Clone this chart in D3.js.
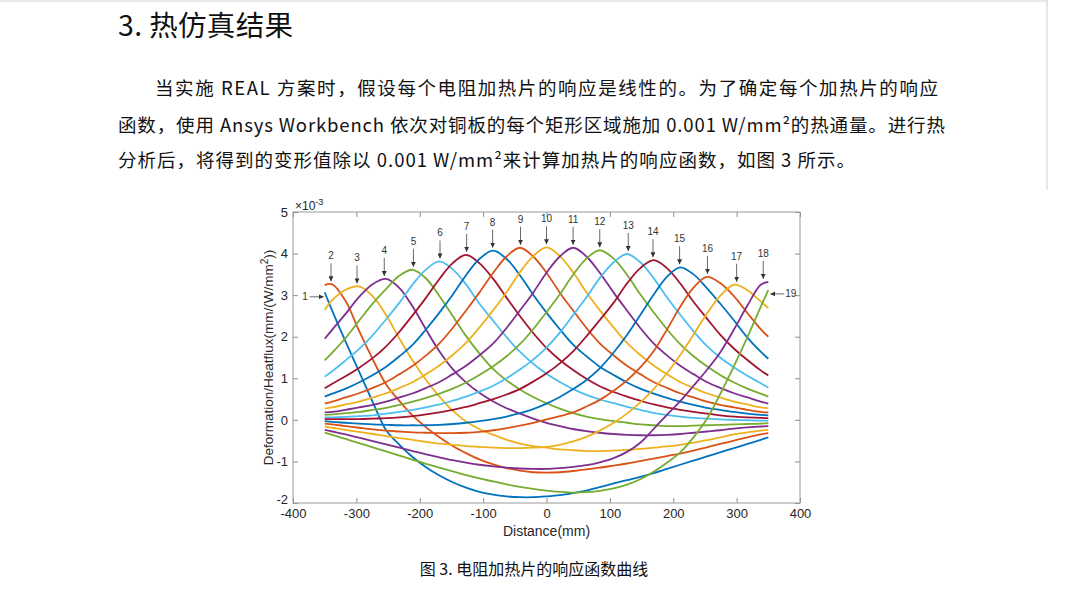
<!DOCTYPE html>
<html lang="zh">
<head>
<meta charset="UTF-8">
<title>电阻加热片的响应函数曲线</title>
<style>
  body { margin: 0; background: #fff; }
  svg { display: block; }
  .cjk { font-family: "Noto Sans CJK SC", sans-serif; fill: #111; }
  .axis text { font-family: "Liberation Sans", Arial, sans-serif; font-size: 13px; fill: #262626; }
  .axis line { stroke: #8f8f8f; }
  .axis path { stroke: none; }
  .frame { fill: none; stroke: #9a9a9a; stroke-width: 1; }
  .ann { font-family: "Liberation Sans", Arial, sans-serif; font-size: 10px; fill: #333; }
  .ann-line { stroke: #444; stroke-width: 0.8; }
  .resp { fill: none; stroke-width: 1.8; }
</style>
</head>
<body>
<script src="https://cdn.jsdelivr.net/npm/d3@7/dist/d3.min.js"></script>
<script>
// distance along the plate (mm)
const distance = [-350, -338, -317, -296, -274, -253, -232, -211, -190, -169, -148, -127, -106, -84, -63, -42, -21, 0,
  21, 42, 63, 84, 106, 127, 148, 169, 190, 211, 232, 253, 274, 296, 317, 338, 350];

// response of heater k, in 1e-3 mm/(W/mm^2)
const h1 = [3.07, 2.62, 1.88, 1.17, 0.42, -0.25, -0.60, -0.90, -1.14, -1.34, -1.50, -1.63, -1.73, -1.80, -1.84, -1.86, -1.86, -1.84,
  -1.81, -1.76, -1.70, -1.62, -1.53, -1.45, -1.37, -1.28, -1.18, -1.08, -0.98, -0.88, -0.78, -0.68, -0.58, -0.48, -0.42];
const h2 = [3.24, 3.26, 2.86, 2.15, 1.45, 0.85, 0.45, 0.10, -0.18, -0.42, -0.63, -0.80, -0.95, -1.07, -1.16, -1.22, -1.26, -1.27,
  -1.26, -1.23, -1.19, -1.15, -1.10, -1.05, -0.99, -0.93, -0.87, -0.81, -0.74, -0.66, -0.58, -0.50, -0.42, -0.35, -0.32];
const h3 = [2.65, 2.88, 3.13, 3.21, 2.97, 2.52, 1.95, 1.42, 0.96, 0.56, 0.22, -0.04, -0.22, -0.36, -0.48, -0.57, -0.63, -0.67,
  -0.71, -0.73, -0.75, -0.75, -0.74, -0.72, -0.70, -0.67, -0.64, -0.60, -0.55, -0.49, -0.42, -0.35, -0.30, -0.26, -0.24];
const h4 = [1.95, 2.17, 2.55, 2.95, 3.27, 3.39, 3.17, 2.72, 2.17, 1.65, 1.22, 0.90, 0.65, 0.44, 0.28, 0.15, 0.03, -0.07,
  -0.15, -0.22, -0.27, -0.31, -0.34, -0.36, -0.37, -0.37, -0.36, -0.34, -0.31, -0.28, -0.25, -0.21, -0.18, -0.16, -0.15];
const h5 = [1.43, 1.62, 1.97, 2.38, 2.80, 3.15, 3.47, 3.61, 3.40, 2.98, 2.50, 2.02, 1.60, 1.22, 0.95, 0.73, 0.55, 0.40,
  0.27, 0.16, 0.08, 0.02, -0.03, -0.07, -0.11, -0.13, -0.15, -0.15, -0.14, -0.13, -0.12, -0.11, -0.10, -0.09, -0.08];
const h6 = [1.04, 1.17, 1.43, 1.70, 2.04, 2.42, 2.82, 3.26, 3.62, 3.81, 3.62, 3.26, 2.80, 2.38, 1.99, 1.64, 1.35, 1.11,
  0.91, 0.74, 0.60, 0.49, 0.40, 0.31, 0.24, 0.17, 0.12, 0.08, 0.05, 0.03, 0.01, 0.00, -0.01, -0.02, -0.02];
const h7 = [0.76, 0.87, 1.05, 1.25, 1.49, 1.77, 2.12, 2.52, 2.94, 3.39, 3.77, 3.97, 3.77, 3.39, 2.94, 2.50, 2.09, 1.73,
  1.44, 1.20, 0.99, 0.81, 0.67, 0.56, 0.46, 0.37, 0.30, 0.24, 0.19, 0.15, 0.11, 0.08, 0.06, 0.05, 0.04];
const h8 = [0.56, 0.63, 0.75, 0.90, 1.08, 1.28, 1.53, 1.81, 2.18, 2.58, 3.01, 3.48, 3.87, 4.07, 3.87, 3.48, 3.01, 2.58,
  2.18, 1.81, 1.53, 1.28, 1.08, 0.90, 0.75, 0.63, 0.53, 0.44, 0.36, 0.29, 0.24, 0.19, 0.15, 0.12, 0.11];
const h9 = [0.39, 0.44, 0.54, 0.64, 0.77, 0.91, 1.10, 1.30, 1.55, 1.84, 2.21, 2.63, 3.06, 3.54, 3.93, 4.14, 3.93, 3.54,
  3.06, 2.63, 2.21, 1.84, 1.55, 1.30, 1.10, 0.91, 0.77, 0.64, 0.54, 0.44, 0.36, 0.30, 0.24, 0.19, 0.18];
const h10 = [0.27, 0.30, 0.37, 0.44, 0.54, 0.64, 0.77, 0.91, 1.10, 1.31, 1.56, 1.85, 2.22, 2.64, 3.07, 3.55, 3.94, 4.15,
  3.94, 3.55, 3.07, 2.64, 2.22, 1.85, 1.56, 1.31, 1.10, 0.91, 0.77, 0.64, 0.54, 0.44, 0.37, 0.30, 0.28];
const h11 = [0.18, 0.19, 0.24, 0.30, 0.36, 0.44, 0.54, 0.64, 0.77, 0.91, 1.10, 1.30, 1.55, 1.84, 2.21, 2.63, 3.06, 3.54,
  3.93, 4.14, 3.93, 3.54, 3.06, 2.63, 2.21, 1.84, 1.55, 1.30, 1.10, 0.91, 0.77, 0.64, 0.54, 0.44, 0.39];
const h12 = [0.12, 0.13, 0.16, 0.19, 0.24, 0.29, 0.36, 0.44, 0.53, 0.63, 0.75, 0.90, 1.08, 1.29, 1.53, 1.82, 2.18, 2.59,
  3.02, 3.49, 3.88, 4.08, 3.88, 3.49, 3.02, 2.59, 2.18, 1.82, 1.53, 1.29, 1.08, 0.90, 0.75, 0.63, 0.56];
const h13 = [0.06, 0.06, 0.07, 0.09, 0.11, 0.15, 0.19, 0.24, 0.30, 0.37, 0.46, 0.56, 0.68, 0.82, 1.00, 1.21, 1.45, 1.74,
  2.10, 2.52, 2.95, 3.41, 3.79, 3.99, 3.79, 3.41, 2.95, 2.53, 2.13, 1.78, 1.50, 1.26, 1.06, 0.88, 0.77];
const h14 = [0.02, 0.02, 0.02, 0.02, 0.03, 0.04, 0.06, 0.09, 0.13, 0.18, 0.24, 0.31, 0.40, 0.50, 0.61, 0.74, 0.92, 1.12,
  1.36, 1.65, 2.01, 2.40, 2.82, 3.28, 3.65, 3.84, 3.65, 3.28, 2.84, 2.44, 2.05, 1.71, 1.44, 1.19, 1.07];
const h15 = [-0.03, -0.05, -0.07, -0.09, -0.11, -0.12, -0.13, -0.13, -0.13, -0.12, -0.10, -0.07, -0.03, 0.02, 0.08, 0.16, 0.26, 0.39,
  0.55, 0.74, 0.96, 1.24, 1.62, 2.04, 2.52, 3.01, 3.44, 3.67, 3.50, 3.17, 2.80, 2.39, 1.98, 1.64, 1.47];
const h16 = [-0.09, -0.11, -0.15, -0.19, -0.23, -0.26, -0.28, -0.30, -0.31, -0.32, -0.32, -0.31, -0.29, -0.25, -0.20, -0.14, -0.07, 0.01,
  0.09, 0.18, 0.32, 0.48, 0.70, 0.95, 1.26, 1.65, 2.17, 2.72, 3.18, 3.44, 3.29, 2.97, 2.57, 2.18, 2.00];
const h17 = [-0.16, -0.19, -0.24, -0.29, -0.34, -0.39, -0.44, -0.48, -0.53, -0.57, -0.60, -0.63, -0.65, -0.67, -0.68, -0.68, -0.67, -0.65,
  -0.60, -0.52, -0.41, -0.26, -0.07, 0.15, 0.42, 0.74, 1.12, 1.56, 2.05, 2.55, 2.98, 3.25, 3.12, 2.85, 2.69];
const h18 = [-0.24, -0.28, -0.35, -0.43, -0.51, -0.59, -0.67, -0.75, -0.83, -0.90, -0.97, -1.03, -1.08, -1.12, -1.15, -1.17, -1.18, -1.18,
  -1.16, -1.13, -1.09, -1.02, -0.92, -0.77, -0.55, -0.22, 0.12, 0.45, 0.82, 1.20, 1.62, 2.18, 2.75, 3.25, 3.32];
const h19 = [-0.31, -0.36, -0.46, -0.56, -0.66, -0.76, -0.86, -0.96, -1.06, -1.15, -1.24, -1.33, -1.41, -1.48, -1.55, -1.61, -1.66, -1.70,
  -1.73, -1.75, -1.74, -1.71, -1.65, -1.56, -1.43, -1.25, -1.03, -0.78, -0.42, 0.02, 0.62, 1.30, 1.99, 2.72, 3.12];

const responses = [h1, h2, h3, h4, h5, h6, h7, h8, h9, h10, h11, h12, h13, h14, h15, h16, h17, h18, h19];

// matlab default line colours, cycled
const lineColors = ["#0072BD", "#D95319", "#EDB120", "#7E2F8E", "#77AC30", "#4DBEEE", "#A2142F"];

const xTicks = [-400, -300, -200, -100, 0, 100, 200, 300, 400];
const yTicks = [-2, -1, 0, 1, 2, 3, 4, 5];

// numbered arrows above the peaks (heaters 2..18)
const peakNames = ["2", "3", "4", "5", "6", "7", "8", "9", "10", "11", "12", "13", "14", "15", "16", "17", "18"];
const peakAt = [-340, -299, -256, -210, -168, -126, -85, -41, 0, 42, 84, 129, 168, 210, 254, 300, 342];
// side arrows for the two edge heaters
const sideNames = ["1", "19"];
const sideAt = [-350, 350];
const sideValue = [2.96, 3.03];

const title = "3. 热仿真结果";
const paragraph = [
  "当实施 REAL 方案时，假设每个电阻加热片的响应是线性的。为了确定每个加热片的响应",
  "函数，使用 Ansys Workbench 依次对铜板的每个矩形区域施加 0.001 W/mm²的热通量。进行热",
  "分析后，将得到的变形值除以 0.001 W/mm²来计算加热片的响应函数，如图 3 所示。"
];
const caption = "图 3. 电阻加热片的响应函数曲线";

const width = 1080, height = 599;
const plot = { left: 293, right: 800, top: 212, bottom: 503 };

const svg = d3.select("body").append("svg")
  .attr("width", width)
  .attr("height", height);

svg.append("rect").attr("width", width).attr("height", height).attr("fill", "#fff");

// page decoration
svg.append("line").attr("x1", 0).attr("x2", 1047).attr("y1", 1).attr("y2", 1)
  .attr("stroke", "#e8e8e8").attr("stroke-width", 2);
svg.append("line").attr("x1", 1047).attr("x2", 1047).attr("y1", 0).attr("y2", 190)
  .attr("stroke", "#cfcfcf").attr("stroke-width", 1);

// text of the page
svg.append("text").attr("class", "cjk")
  .attr("x", 118).attr("y", 36)
  .style("font-size", "28.5px")
  .attr("textLength", 175)
  .text(title);

const paraX = [155, 118, 118];
const paraW = [783, 827, 737];
const paraY = [95, 132, 167];
svg.selectAll("text.para").data(paragraph).enter().append("text")
  .attr("class", "cjk para")
  .attr("x", (d, i) => paraX[i])
  .attr("y", (d, i) => paraY[i])
  .attr("textLength", (d, i) => paraW[i])
  .attr("lengthAdjust", "spacing")
  .style("font-size", "18.5px")
  .text(d => d);

svg.append("text").attr("class", "cjk")
  .attr("x", 534).attr("y", 575)
  .attr("text-anchor", "middle")
  .style("font-size", "16px")
  .text(caption);

// scales
const x = d3.scaleLinear().domain([-400, 400]).range([plot.left, plot.right]);
const y = d3.scaleLinear().domain([-2, 5]).range([plot.bottom, plot.top]);

// axes (ticks point inwards, like matlab)
svg.append("g").attr("class", "axis")
  .attr("transform", `translate(0,${plot.bottom})`)
  .call(d3.axisBottom(x).tickValues(xTicks).tickFormat(d3.format("d")).tickSizeInner(-5).tickSizeOuter(0).tickPadding(6));
svg.append("g").attr("class", "axis")
  .attr("transform", `translate(0,${plot.top})`)
  .call(d3.axisTop(x).tickValues(xTicks).tickSizeInner(-5).tickSizeOuter(0).tickFormat(""));
svg.append("g").attr("class", "axis")
  .attr("transform", `translate(${plot.left},0)`)
  .call(d3.axisLeft(y).tickValues(yTicks).tickFormat(d3.format("d")).tickSizeInner(-5).tickSizeOuter(0).tickPadding(5));
svg.append("g").attr("class", "axis")
  .attr("transform", `translate(${plot.right},0)`)
  .call(d3.axisRight(y).tickValues(yTicks).tickSizeInner(-5).tickSizeOuter(0).tickFormat(""));

svg.selectAll(".axis text").text(function() { return this.textContent.replace("−", "-"); });
// keep the lowest y label clear of the x labels
svg.selectAll(".axis text").filter(d => d === -2).attr("dy", "0.05em");

svg.append("rect").attr("class", "frame")
  .attr("x", plot.left).attr("y", plot.top)
  .attr("width", plot.right - plot.left)
  .attr("height", plot.bottom - plot.top);

// exponent note
const expo = svg.append("text").attr("class", "ann")
  .attr("x", plot.left + 2).attr("y", plot.top - 2)
  .style("font-size", "12px").style("fill", "#262626");
expo.append("tspan").text("×10");
expo.append("tspan").attr("dy", -5).style("font-size", "9px").text("-3");

// axis titles
svg.append("text").attr("class", "ann")
  .attr("x", (plot.left + plot.right) / 2).attr("y", 536)
  .attr("text-anchor", "middle")
  .style("font-size", "14px").style("fill", "#262626")
  .text("Distance(mm)");

const ylab = svg.append("text").attr("class", "ann")
  .attr("transform", `translate(273,${(plot.top + plot.bottom) / 2}) rotate(-90)`)
  .attr("text-anchor", "middle")
  .style("font-size", "13.5px").style("fill", "#262626");
ylab.append("tspan").text("Deformation/Heatflux(mm/(W/mm");
ylab.append("tspan").attr("dy", -5).style("font-size", "10px").text("2");
ylab.append("tspan").attr("dy", 5).text("))");

// response curves
const line = d3.line()
  .x((d, i) => x(distance[i]))
  .y(d => y(d))
  .curve(d3.curveCatmullRom.alpha(0.5));

svg.append("g").selectAll("path").data(responses).enter().append("path")
  .attr("class", "resp")
  .attr("stroke", (d, i) => lineColors[i % lineColors.length])
  .attr("d", line);

// arrow heads
svg.append("defs").append("marker")
  .attr("id", "tip")
  .attr("viewBox", "0 0 10 10")
  .attr("refX", 10).attr("refY", 5)
  .attr("markerUnits", "userSpaceOnUse")
  .attr("markerWidth", 5).attr("markerHeight", 5)
  .attr("orient", "auto")
  .append("path").attr("d", "M0,0L10,5L0,10z").attr("fill", "#333");

const peaks = svg.append("g").selectAll("g").data(peakNames).enter().append("g")
  .attr("transform", (d, i) => `translate(${x(peakAt[i])},${y(d3.max(responses[i + 1]))})`);
peaks.append("line").attr("class", "ann-line")
  .attr("x1", 0).attr("x2", 0).attr("y1", -21).attr("y2", -3)
  .attr("marker-end", "url(#tip)");
peaks.append("text").attr("class", "ann")
  .attr("y", -25).attr("text-anchor", "middle")
  .text(d => d);

const sides = svg.append("g").selectAll("g").data(sideNames).enter().append("g")
  .attr("transform", (d, i) => `translate(${x(sideAt[i])},${y(sideValue[i])})`);
sides.append("line").attr("class", "ann-line")
  .attr("x1", (d, i) => i === 0 ? -15 : 16).attr("x2", (d, i) => i === 0 ? -1 : 2)
  .attr("y1", 0).attr("y2", 0)
  .attr("marker-end", "url(#tip)");
sides.append("text").attr("class", "ann")
  .attr("x", (d, i) => i === 0 ? -17 : 17)
  .attr("dy", "0.35em")
  .attr("text-anchor", (d, i) => i === 0 ? "end" : "start")
  .text(d => d);
</script>
</body>
</html>
